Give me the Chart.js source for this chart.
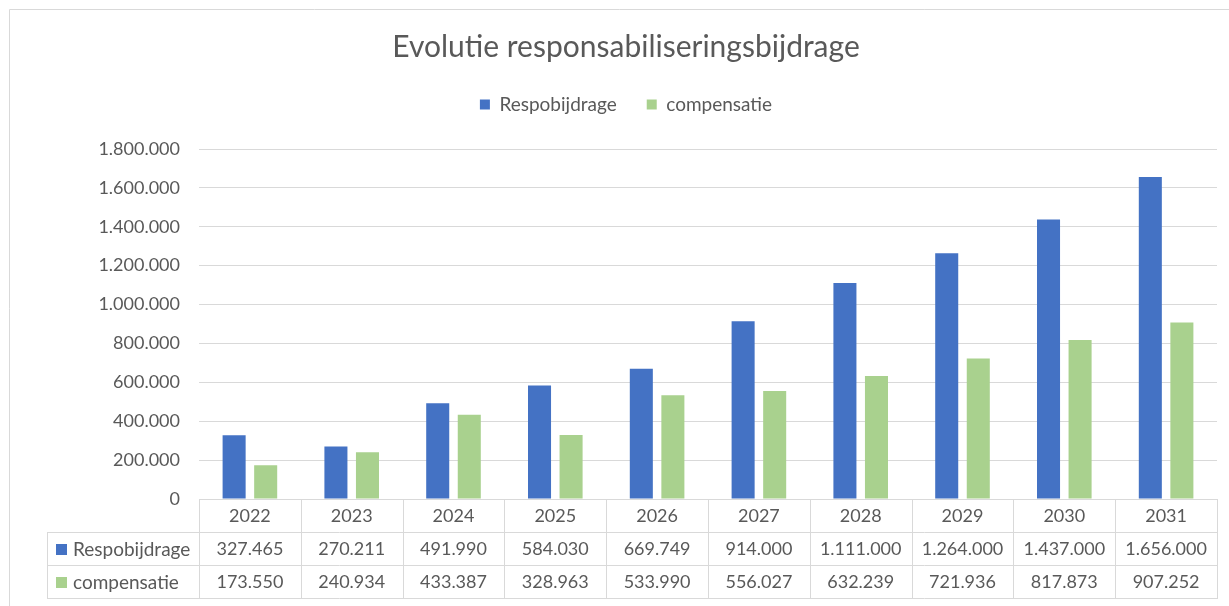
<!DOCTYPE html>
<html>
<head>
<meta charset="utf-8">
<script src="https://cdn.jsdelivr.net/npm/chart.js@4.4.1/dist/chart.umd.min.js"></script>
<style>
  html, body { margin: 0; padding: 0; background: #fff; }
  #wrap { position: relative; width: 1229px; height: 606px; }
  canvas { display: block; }
</style>
</head>
<body>
<div id="wrap"><canvas id="c" width="1229" height="606"></canvas></div>
<script>
const categories = ['2022', '2023', '2024', '2025', '2026', '2027', '2028', '2029', '2030', '2031'];
const respobijdrage = [327465, 270211, 491990, 584030, 669749, 914000, 1111000, 1264000, 1437000, 1656000];
const compensatie = [173550, 240934, 433387, 328963, 533990, 556027, 632239, 721936, 817873, 907252];
const seriesNames = ['Respobijdrage', 'compensatie'];
const seriesColors = ['#4472C4', '#A9D18E'];
const titleText = 'Evolutie responsabiliseringsbijdrage';

const FONT = "Lato, 'Open Sans', sans-serif";
const TEXT = '#595959';
const GRID = '#D9D9D9';
const NUM_SIZE = 18;
const WORD_SIZE = 19;

function fmt(n) {
  return String(Math.round(n)).replace(/\B(?=(\d{3})+(?!\d))/g, '.');
}

const seriesValues = [respobijdrage, compensatie];

const legendSpace = {
  id: 'legendSpace',
  beforeUpdate(chart) {
    const lg = chart.legend;
    if (lg && !lg._patched) {
      const orig = lg.fit;
      lg.fit = function () {
        orig.apply(this, arguments);
        this.height += 25;
      };
      lg._patched = true;
    }
  }
};

const tablePlugin = {
  id: 'dataTable',
  beforeDraw(chart) {
    const ctx = chart.ctx;
    ctx.save();
    ctx.strokeStyle = GRID;
    ctx.lineWidth = 1;
    ctx.beginPath();
    ctx.moveTo(9.5, 700);
    ctx.lineTo(9.5, 9.5);
    ctx.lineTo(1300, 9.5);
    ctx.stroke();
    ctx.restore();
  },
  afterDraw(chart) {
    const ctx = chart.ctx;
    const x = chart.scales.x;
    const area = chart.chartArea;
    const top = area.bottom;
    const rowH = 33;
    const rows = [top, top + rowH, top + 2 * rowH, top + 3 * rowH];
    const labelLeft = 47;
    const n = categories.length;
    const catW = (area.right - area.left) / n;
    ctx.save();
    ctx.strokeStyle = GRID;
    ctx.lineWidth = 1;
    ctx.beginPath();
    ctx.moveTo(area.left, Math.round(rows[0]) + 0.5);
    ctx.lineTo(area.right, Math.round(rows[0]) + 0.5);
    for (let r = 1; r < 4; r++) {
      ctx.moveTo(labelLeft, Math.round(rows[r]) + 0.5);
      ctx.lineTo(area.right, Math.round(rows[r]) + 0.5);
    }
    ctx.moveTo(labelLeft + 0.5, Math.round(rows[1]));
    ctx.lineTo(labelLeft + 0.5, Math.round(rows[3]) + 1);
    for (let i = 0; i <= n; i++) {
      const xx = Math.round(x.getPixelForValue(i) - catW / 2) + 0.5;
      ctx.moveTo(xx, Math.round(rows[0]));
      ctx.lineTo(xx, Math.round(rows[3]) + 1);
    }
    ctx.stroke();

    ctx.fillStyle = TEXT;
    ctx.font = NUM_SIZE + 'px ' + FONT;
    ctx.textAlign = 'center';
    ctx.textBaseline = 'middle';
    for (let i = 0; i < n; i++) {
      const cx = x.getPixelForValue(i);
      ctx.fillText(categories[i], cx, rows[0] + rowH / 2 + 1);
      for (let s = 0; s < seriesValues.length; s++) {
        ctx.fillText(fmt(seriesValues[s][i]), cx, rows[s + 1] + rowH / 2 + 1);
      }
    }
    ctx.textAlign = 'left';
    ctx.font = WORD_SIZE + 'px ' + FONT;
    for (let s = 0; s < seriesNames.length; s++) {
      const cy = rows[s + 1] + rowH / 2;
      ctx.fillStyle = seriesColors[s];
      ctx.fillRect(56, Math.round(cy - 5), 11, 11);
      ctx.fillStyle = TEXT;
      ctx.fillText(seriesNames[s], 73, cy + 1);
    }
    ctx.restore();
  }
};

new Chart(document.getElementById('c'), {
  type: 'bar',
  data: {
    labels: categories,
    datasets: [
      { label: seriesNames[0], data: respobijdrage, backgroundColor: seriesColors[0], borderWidth: 0 },
      { label: seriesNames[1], data: compensatie, backgroundColor: seriesColors[1], borderWidth: 0 }
    ]
  },
  options: {
    responsive: false,
    animation: false,
    categoryPercentage: 0.62,
    barPercentage: 0.73,
    layout: { padding: { left: 35, right: 12, top: 0, bottom: 107 } },
    plugins: {
      title: {
        display: true,
        text: titleText,
        color: TEXT,
        font: { family: FONT, size: 30, weight: 'normal' },
        padding: { top: 29, bottom: 0 }
      },
      legend: {
        display: true,
        labels: {
          color: TEXT,
          font: { family: FONT, size: WORD_SIZE },
          boxWidth: 10,
          boxHeight: 10,
          padding: 30
        }
      },
      tooltip: { enabled: false }
    },
    scales: {
      x: {
        grid: { display: false },
        border: { display: false },
        ticks: { display: false },
        afterFit(scale) { scale.height = 0; }
      },
      y: {
        min: 0,
        max: 1800000,
        ticks: {
          stepSize: 200000,
          color: TEXT,
          padding: 19,
          font: { family: FONT, size: NUM_SIZE },
          callback: (v) => fmt(v)
        },
        grid: { color: GRID, drawTicks: false },
        border: { display: false },
        afterFit(scale) { scale.width = 164; }
      }
    }
  },
  plugins: [legendSpace, tablePlugin]
});
</script>
</body>
</html>
